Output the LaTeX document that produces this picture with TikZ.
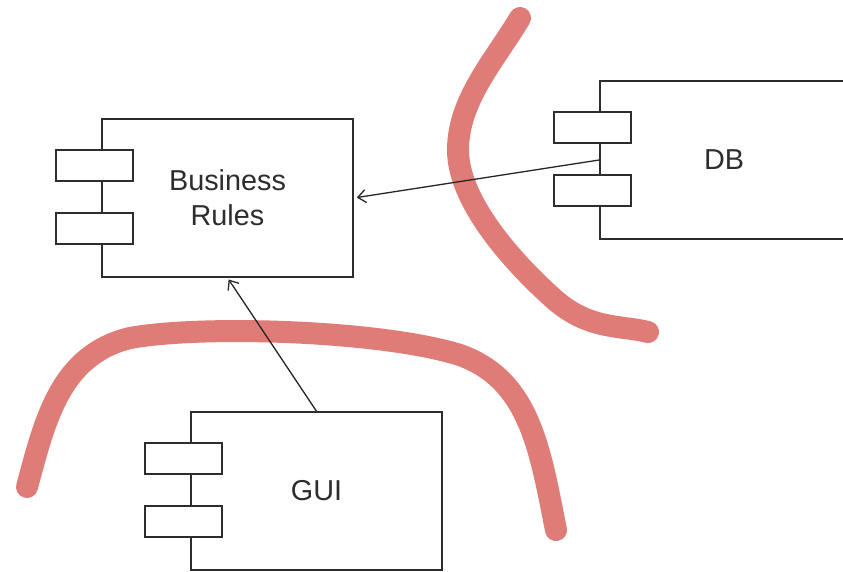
\documentclass[tikz,border=0pt]{standalone}
\usepackage{fontspec}
\setmainfont{Liberation Sans}
\usetikzlibrary{arrows.meta,calc}
\definecolor{cut}{RGB}{223,124,120}
\definecolor{ink}{RGB}{45,45,45}
\begin{document}
\begin{tikzpicture}[x=1pt,y=-1pt,
  comp/.style={draw=ink, line width=1.6pt, minimum width=251pt, minimum height=158pt,
    inner sep=0pt, align=center, font=\fontsize{28.8}{35}\selectfont, text=ink},
  port/.style={draw=ink, fill=white, line width=1.6pt, minimum width=77pt,
    minimum height=31pt, inner sep=0pt},
  arr/.style={line width=1.3pt, draw=black!85,
    -{Straight Barb[length=8pt,width=13pt,line width=1.3pt]}},
  boundary/.style={cut, line width=22pt, line cap=round, line join=round}]
\useasboundingbox (0,0) rectangle (843,571);
\clip (0,0) rectangle (843,571);
% boundaries
\draw[boundary] (520,18) .. controls (495,60) and (458,100) .. (458,150)
  .. controls (458,200) and (510,260) .. (555,300)
  .. controls (590,330) and (620,325) .. (648,332);
\draw[boundary] (27,487) .. controls (45,420) and (60,355) .. (130,338)
  .. controls (200,325) and (380,330) .. (460,355)
  .. controls (530,380) and (540,450) .. (556,530);
% components
\node[comp] (BR) at (227.5,198) {Business\\Rules};
\node[comp, minimum width=248pt] (DB) at (724,160) {DB};
\node[comp] (GUI) at (316.5,491) {GUI};
\foreach \c in {BR,DB,GUI}{
  \node[port] (\c p1) at ($(\c.north west)+(-7,47.5)$) {};
  \node[port] (\c p2) at ($(\c.north west)+(-7,110.5)$) {};
}
% dependencies
\draw[arr, shorten >=3pt] (DB.west) -- (BR.east);
\draw[arr, shorten >=2pt] (GUI.north) -- (BR.south);
\end{tikzpicture}
\end{document}
